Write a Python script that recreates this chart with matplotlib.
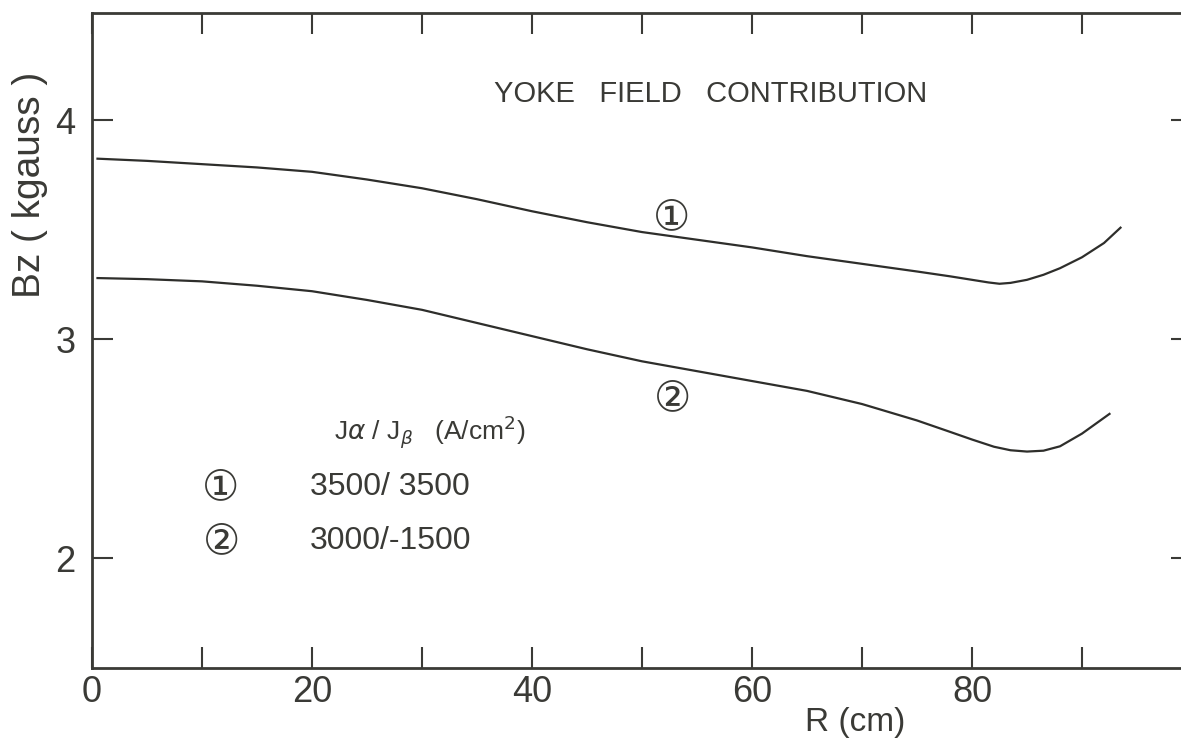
import matplotlib
matplotlib.use("Agg")
import matplotlib.pyplot as plt
import numpy as np

plt.rcParams["font.family"] = ["Liberation Sans", "DejaVu Sans", "Noto Sans CJK JP"]

INK = "#3a3a36"
CIRC = ["DejaVu Sans", "Noto Sans CJK JP"]

# curve 1: J_alpha/J_beta = 3500/3500
r1 = [0.5, 5, 10, 15, 20, 25, 30, 35, 40, 45, 50, 55, 60, 65, 70, 75, 78, 80, 81.5, 82.5,
      83.5, 85, 86.5, 88, 90, 92, 93.5]
bz1 = [3.825, 3.815, 3.80, 3.785, 3.765, 3.73, 3.69, 3.64, 3.585, 3.535, 3.49, 3.455, 3.42, 3.38,
       3.345, 3.31, 3.288, 3.272, 3.26, 3.254, 3.258, 3.272, 3.295, 3.325, 3.375, 3.44, 3.51]

# curve 2: J_alpha/J_beta = 3000/-1500
r2 = [0.5, 5, 10, 15, 20, 25, 30, 35, 40, 45, 50, 55, 60, 65, 70, 75, 78, 80, 82, 83.5,
      85, 86.5, 88, 90, 92.5]
bz2 = [3.28, 3.275, 3.265, 3.245, 3.22, 3.18, 3.135, 3.075, 3.015, 2.955, 2.90, 2.855, 2.81, 2.765,
       2.705, 2.63, 2.578, 2.543, 2.51, 2.494, 2.488, 2.492, 2.512, 2.57, 2.66]

x_ticks = list(range(0, 101, 10))
x_labels = ["0", "", "20", "", "40", "", "60", "", "80", "", ""]
y_ticks = [2, 3, 4]

fig = plt.figure(figsize=(11.81, 7.39), dpi=100)
ax = fig.add_axes([92 / 1181, 71 / 739, 1100 / 1181, 655 / 739])

ax.plot(r1, bz1, color="#2e2e2b", lw=1.6)
ax.plot(r2, bz2, color="#2e2e2b", lw=1.6)

ax.set_xlim(0, 100)
ax.set_ylim(1.5, 4.49)

ax.set_xticks(x_ticks, labels=x_labels)
ax.set_yticks(y_ticks, labels=[str(v) for v in y_ticks])
ax.tick_params(axis="both", direction="in", length=15, width=1.5, color=INK,
               top=True, right=True, labelsize=26, labelcolor=INK)
ax.tick_params(axis="x", pad=5)
ax.tick_params(axis="y", pad=12)
for s in ax.spines.values():
    s.set_linewidth(2)
    s.set_color(INK)

ax.text(56.2, 4.12, "YOKE   FIELD   CONTRIBUTION", ha="center", va="center",
        fontsize=21, color=INK)

# curve markers
ax.text(52.7, 3.56, "\u2460", ha="center", va="center", fontsize=30, color=INK, family=CIRC)
ax.text(52.8, 2.73, "\u2461", ha="center", va="center", fontsize=30, color=INK, family=CIRC)

# key
ax.text(22.0, 2.58, r"J$\alpha$ / J$_\beta$   (A/cm$^2$)", ha="left", va="center",
        fontsize=19, color=INK)
ax.text(11.7, 2.325, "\u2460", ha="center", va="center", fontsize=30, color=INK, family=CIRC)
ax.text(19.8, 2.325, "3500/ 3500", ha="left", va="center", fontsize=23, color=INK)
ax.text(11.8, 2.08, "\u2461", ha="center", va="center", fontsize=30, color=INK, family=CIRC)
ax.text(19.8, 2.08, "3000/-1500", ha="left", va="center", fontsize=23, color=INK)

fig.text(30 / 1181, 1 - 185 / 739, "Bz ( kgauss )", rotation=90, ha="center", va="center",
         fontsize=28, color=INK)
fig.text(855 / 1181, 1 - 722 / 739, "R (cm)", ha="center", va="center",
         fontsize=24, color=INK)

fig.savefig("out.png", dpi=100)
